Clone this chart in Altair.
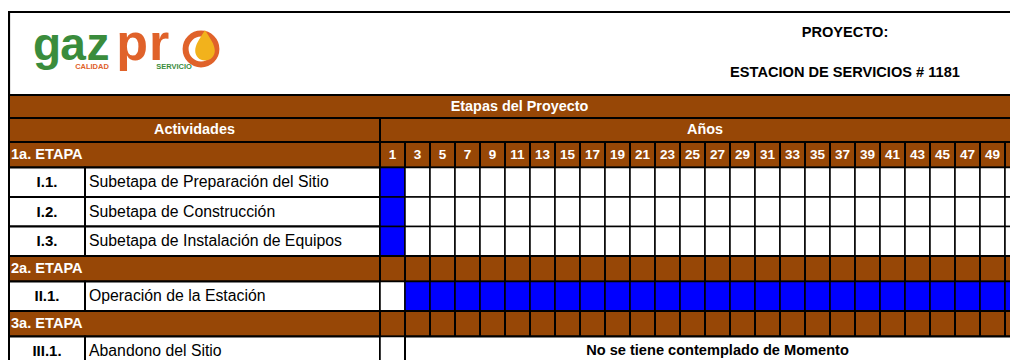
import altair as alt
import pandas as pd

# ---------------- data ----------------
years = [1, 3, 5, 7, 9, 11, 13, 15, 17, 19, 21, 23, 25, 27, 29, 31, 33, 35,
         37, 39, 41, 43, 45, 47, 49, 51]
stages = ["1a. ETAPA", "2a. ETAPA", "3a. ETAPA"]
act_ids = ["I.1.", "I.2.", "I.3.", "II.1.", "III.1."]
act_names = ["Subetapa de Preparación del Sitio", "Subetapa de Construcción",
             "Subetapa de Instalación de Equipos", "Operación de la Estación",
             "Abandono del Sitio"]
act_stage = [0, 0, 0, 1, 2]
act_from = [1, 1, 1, 3, None]
act_to = [1, 1, 1, 51, None]
note_row = "III.1."
note_text = "No se tiene contemplado de Momento"
project_title = "PROYECTO:"
project_name = "ESTACION DE SERVICIOS # 1181"
band_title = "Etapas del Proyecto"
col_activities = "Actividades"
col_years = "Años"
logo_letters = ["g", "a", "z", "p", "r"]
logo_tags = ["CALIDAD", "SERVICIO"]

# ---------------- layout / style ----------------
BROWN = "#974706"
BLUE = "#0000FF"
GREEN = "#3A8C3C"
ORANGE = "#E0622A"
YELLOW = "#F2B21C"
FONT = "'Liberation Sans', Arial, sans-serif"

PAGE_W, PAGE_H = 1010, 360   # visible page area right/bottom (page coords)
X0, X_ID, X_DESC, CW = 9, 85, 380, 25
XEND = X_DESC + CW * len(years)
Y_TOP, Y_HDR = 12, 95
H_BAND1, H_BAND2 = 23, 24
H_STAGE, H_ACT = 25.5, 29.5

rects, wtxt_c, wtxt_l, btxt_c, btxt_l = [], [], [], [], []

def rect(x, x2, y, y2, fill, sw=1.5):
    rects.append(dict(x=x, x2=x2, y=y, y2=y2, fill=fill, sw=sw))

# header box
rect(X0, XEND + 20, Y_TOP, Y_HDR, "white", 2.2)
btxt_c.append(dict(x=845, y=33, t=project_title, s=14.6))
btxt_c.append(dict(x=845, y=73, t=project_name, s=14.6))

y = Y_HDR
rect(X0, XEND + 20, y, y + H_BAND1, BROWN, 2)
wtxt_c.append(dict(x=(X0 + XEND) / 2, y=y + H_BAND1 / 2, t=band_title, s=14.4))
y += H_BAND1
rect(X0, X_DESC, y, y + H_BAND2, BROWN, 2)
rect(X_DESC, XEND + 20, y, y + H_BAND2, BROWN, 2)
wtxt_c.append(dict(x=(X0 + X_DESC) / 2, y=y + H_BAND2 / 2, t=col_activities, s=14.4))
wtxt_c.append(dict(x=(X_DESC + XEND) / 2, y=y + H_BAND2 / 2, t=col_years, s=14.4))
y += H_BAND2

for si, st in enumerate(stages):
    rect(X0, X_DESC, y, y + H_STAGE, BROWN, 2)
    wtxt_l.append(dict(x=X0 + 2, y=y + H_STAGE / 2, t=st, s=14.6))
    for i, yr in enumerate(years):
        xa = X_DESC + i * CW
        rect(xa, xa + CW, y, y + H_STAGE, BROWN, 2)
        if si == 0:
            wtxt_c.append(dict(x=xa + CW / 2, y=y + H_STAGE / 2, t=str(yr), s=13.5))
    y += H_STAGE
    for ai in range(len(act_ids)):
        if act_stage[ai] != si:
            continue
        rect(X0, X_ID, y, y + H_ACT, "white", 2)
        rect(X_ID, X_DESC, y, y + H_ACT, "white", 2)
        btxt_c.append(dict(x=(X0 + X_ID) / 2, y=y + H_ACT / 2, t=act_ids[ai], s=15))
        btxt_l.append(dict(x=X_ID + 4, y=y + H_ACT / 2, t=act_names[ai], s=15.8))
        if act_ids[ai] == note_row:
            rect(X_DESC, X_DESC + CW, y, y + H_ACT, "white", 1.5)
            rect(X_DESC + CW, XEND + 20, y, y + H_ACT, "white", 2)
            btxt_c.append(dict(x=(X_DESC + CW + XEND) / 2, y=y + H_ACT / 2, t=note_text, s=14.6))
        else:
            for i, yr in enumerate(years):
                xa = X_DESC + i * CW
                on = act_from[ai] is not None and act_from[ai] <= yr <= act_to[ai]
                rect(xa, xa + CW, y, y + H_ACT, BLUE if on else "white", 1.5)
        y += H_ACT

# logo
logo = pd.DataFrame(dict(
    t=logo_letters,
    x=[47, 73, 98, 132, 159],
    y=[60, 60, 60, 60, 60],
    c=[GREEN, GREEN, GREEN, ORANGE, ORANGE],
    s=[46, 46, 46, 52, 52],
))
tags = pd.DataFrame(dict(t=logo_tags, x=[92, 174], y=[67, 67], c=[ORANGE, GREEN]))

X = dict(scale=alt.Scale(domain=[8, PAGE_W]), axis=None)
Y = dict(scale=alt.Scale(domain=[8, PAGE_H], reverse=True), axis=None)

def xq(f):
    return alt.X(f"{f}:Q", **X)

def yq(f):
    return alt.Y(f"{f}:Q", **Y)

rdf = pd.DataFrame(rects)
cells = alt.Chart(rdf).mark_rect(clip=True, stroke="black").encode(
    x=xq("x"), x2="x2", y=yq("y"), y2="y2",
    color=alt.Color("fill:N", scale=None),
    strokeWidth=alt.StrokeWidth("sw:Q", scale=None),
)

def text_layer(rows, color, weight, align):
    df = pd.DataFrame(rows)
    return alt.Chart(df).mark_text(
        font=FONT, fontWeight=weight, align=align, baseline="middle", color=color,
        clip=True
    ).encode(x=xq("x"), y=yq("y"), text="t:N", size=alt.Size("s:Q", scale=None))

t1 = text_layer(wtxt_c, "white", "bold", "center")
t2 = text_layer(wtxt_l, "white", "bold", "left")
t3 = text_layer(btxt_c, "black", "bold", "center")
t4 = text_layer(btxt_l, "black", "normal", "left")

logo_txt = alt.Chart(logo).mark_text(
    font=FONT, fontWeight="bold", baseline="alphabetic", align="center"
).encode(x=xq("x"), y=yq("y"), text="t:N", color=alt.Color("c:N", scale=None),
         size=alt.Size("s:Q", scale=None))

tag_txt = alt.Chart(tags).mark_text(
    font=FONT, fontWeight="bold", fontSize=7.5, baseline="middle", align="center"
).encode(x=xq("x"), y=yq("y"), text="t:N", color=alt.Color("c:N", scale=None))

ring_df = pd.DataFrame(dict(x=[201], y=[49]))
ring = alt.Chart(ring_df).mark_point(
    shape="circle", filled=False, stroke=ORANGE, strokeWidth=6, size=950, opacity=1
).encode(x=xq("x"), y=yq("y"))
drop = alt.Chart(ring_df).mark_point(
    shape="M0,-1 C0.35,-0.45 0.62,-0.1 0.62,0.3 A0.62,0.62 0 1,1 -0.62,0.3 C-0.62,-0.1 -0.35,-0.45 0,-1 Z",
    filled=True, fill=YELLOW, stroke=None, size=1000, opacity=1
).encode(x=alt.X("xd:Q", **X), y=alt.Y("yd:Q", **Y)).transform_calculate(
    xd="datum.x + 4", yd="datum.y - 3")

chart = alt.layer(cells, t1, t2, t3, t4, logo_txt, tag_txt, ring, drop).properties(
    width=PAGE_W - 8, height=PAGE_H - 8, autosize=alt.AutoSizeParams(type="none"),
    padding=0, background="white"
).configure_view(strokeWidth=0)

chart.save("out.html", embed_options={"renderer": "svg", "actions": False})
